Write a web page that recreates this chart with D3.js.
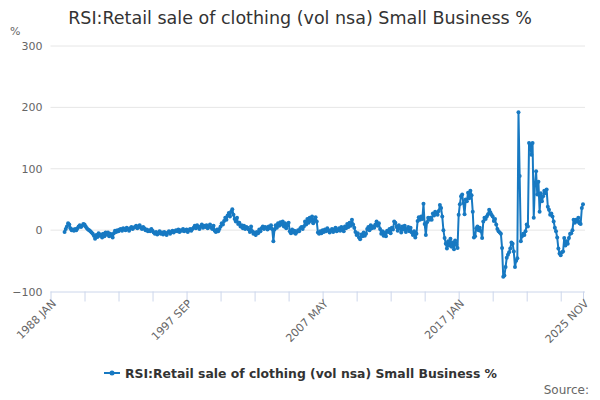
<!DOCTYPE html>
<html><head><meta charset="utf-8">
<script src="https://cdn.jsdelivr.net/npm/d3@7"></script>
<style>
body{margin:0;background:#fff}
svg{display:block;font-family:"DejaVu Sans",sans-serif}
</style>
</head><body>
<svg id="chart" width="600" height="400"></svg>
<script>
const chartTitle = "RSI:Retail sale of clothing (vol nsa) Small Business %";
const seriesName = "RSI:Retail sale of clothing (vol nsa) Small Business %";
const monthNames = ["JAN","FEB","MAR","APR","MAY","JUN","JUL","AUG","SEP","OCT","NOV","DEC"];
const axisStartYear = 1988;           // first category: 1988 JAN
const axisEnd = "2025 NOV";           // last category
const firstDataCategory = "1989 JAN"; // first month with a value
const yTicks = [-100, 0, 100, 200, 300];
const xLabelCategories = ["1988 JAN", "1997 SEP", "2007 MAY", "2017 JAN", "2025 NOV"];
const xTickStep = 29;

// Monthly values (%), 1989 JAN .. 2025 NOV, one row per year
const values = [
  -3, 2, 6, 11, 9, 3, 0, 1, -1, 2, 0, 3,
  6, 8, 5, 7, 10, 9, 6, 3, 1, 0, -2, -4,
  -6, -9, -14, -8, -11, -5, -9, -7, -12, -6, -10, -4,
  -7, -4, -10, -6, -9, -12, -5, -1, -3, 0, -2, 1,
  2, -1, 3, 1, 0, 4, 2, -1, 3, 5, 2, 4,
  5, 7, 3, 6, 8, 4, 2, 5, 3, 0, 1, -2,
  0, -2, 2, -1, -4, -6, -3, -7, -5, -2, -6, -4,
  -7, -3, -5, -8, -4, -2, -6, -3, -1, -4, -2, 0,
  -2, 1, -3, 0, -1, 2, -2, 0, 1, -3, 0, 2,
  -1, 2, 4, 7, 3, 8, 5, 2, 6, 9, 4, 7,
  5, 8, 3, 6, 9, 4, 2, 7, -1, -3, 1, -2,
  2, 6, 11, 9, 15, 20, 17, 24, 28, 22, 30, 34,
  25, 18, 14, 20, 10, 12, 6, 8, 3, 7, 2, 5,
  4, 1, -3, 6, -2, -6, -4, -8, -3, -5, 1, -2,
  3, 6, 2, 5, 4, 1, 6, 3, 8, 2, -18, 1,
  8, 4, 11, 7, 13, 9, 14, 6, 11, 3, 8, 12,
  -2, -5, 1, -4, -1, -6, -3, 0, -2, 3, 5, 2,
  6, 14, 9, 18, 12, 20, 15, 22, 11, 17, 21, 14,
  -4, -6, -2, -5, 0, -3, 1, -2, 3, 0, -4, -1,
  2, -3, 1, 4, -2, 0, 3, -1, 5, 2, -2, 6,
  3, 10, 5, 12, 7, 17, 9, 4, -3, -8, -5, -12,
  -15, -7, -10, -4, -9, -6, 2, 5, 0, 8, 3, 6,
  4, 9, 14, 7, 11, 2, -6, -2, -9, -4, -10, -1,
  -3, 2, -5, 4, 1, 14, 12, 5, -1, 8, 3, -4,
  6, 1, 7, -3, 2, 5, -2, 4, -4, -8, -2, -12,
  -6, 15, 21, 17, 22, 18, 43, 10, -8, 13, 20, 17,
  20, 17, 27, 24, 30, 28, 25, 31, 41, 36, 22, 0,
  -13, -22, -30, -18, -25, -14, -27, -20, -31, -17, -24, -29,
  25, 42, 55, 58, 44, 26, 50, 47, 61, 52, 64, 57,
  30, -12, -10, 3, 6, 0, 4, -2, -13, 14, 20, 18,
  22, 26, 33, 29, 25, 22, 15, 18, 9, 2, -2, -4,
  -6, -29, -76, -74, -60, -45, -40, -36, -30, -20, -22, -35,
  -60, -50, -46, 192, 88, -18, -10, -6, -8, -2, 9, 6,
  142, 139, 123, 142, 20, 74, 96, 58, 79, 30, 60, 47,
  55, 64, 60, 66, 38, 33, 25, 27, 22, 14, 4, -2,
  -12, -30, -38, -41, -36, -35, -13, -25, -18, -22, -13, -6,
  -5, 0, 17, 12, 17, 14, 20, 11, 10, 36, 42
];

// build month categories for the axis
const categories = [];
for (let y = axisStartYear; ; y++) {
  let done = false;
  for (let m = 0; m < 12; m++) {
    const c = y + " " + monthNames[m];
    categories.push(c);
    if (c === axisEnd) { done = true; break; }
  }
  if (done) break;
}
const startIdx = categories.indexOf(firstDataCategory);
const data = values.map((v, i) => ({cat: categories[startIdx + i], v}));

const color = "#1779c2";
const svg = d3.select("#chart");
const margin = {left: 50.5, right: 583, top: 46, bottom: 291.5};

const x = d3.scalePoint().domain(categories).range([margin.left, margin.right]);
const y = d3.scaleLinear().domain([-100, 300]).range([margin.bottom, margin.top]);

// title
svg.append("text").attr("x", 300).attr("y", 24).attr("text-anchor", "middle")
  .attr("font-size", 17.5).attr("fill", "#333").text(chartTitle);

// unit
svg.append("text").attr("x", 10).attr("y", 35).attr("font-size", 11).attr("fill", "#666").text("%");

// grid + y labels
const yAxis = d3.axisLeft(y).tickValues(yTicks).tickSize(0).tickPadding(8);
const gy = svg.append("g").attr("transform", `translate(${margin.left},0)`).call(yAxis);
gy.select(".domain").remove();
gy.selectAll("text").attr("font-size", 11).attr("fill", "#666").attr("font-family", "DejaVu Sans, sans-serif");
svg.append("g").selectAll("line").data(yTicks.filter(t => t !== -100)).join("line")
  .attr("x1", margin.left).attr("x2", margin.right + 2)
  .attr("y1", d => y(d)).attr("y2", d => y(d))
  .attr("stroke", "#e6e6e6").attr("stroke-width", 1);

// x axis
const tickCats = categories.filter((c, i) => i % xTickStep === 0);
tickCats.push(axisEnd);
const xAxis = d3.axisBottom(x).tickValues(tickCats).tickSize(10)
  .tickFormat(d => xLabelCategories.includes(d) ? d : "");
const gx = svg.append("g").attr("transform", `translate(0,${margin.bottom})`).call(xAxis);
gx.select(".domain").attr("stroke", "#ccd6eb").attr("d", `M${margin.left},0.5H${margin.right + 2}`);
gx.selectAll(".tick line").attr("stroke", "#ccd6eb");
gx.selectAll(".tick text")
  .attr("font-size", 11).attr("fill", "#666").attr("font-family", "DejaVu Sans, sans-serif")
  .attr("text-anchor", "end").attr("dy", "0.35em")
  .attr("transform", "translate(3,10) rotate(-45)").attr("x", 0).attr("y", 0);

// line
const line = d3.line().x(d => x(d.cat)).y(d => y(d.v));
svg.append("path").datum(data).attr("d", line)
  .attr("fill", "none").attr("stroke", color).attr("stroke-width", 2).attr("stroke-linejoin", "round");
svg.append("g").selectAll("circle").data(data).join("circle")
  .attr("cx", d => x(d.cat)).attr("cy", d => y(d.v)).attr("r", 2).attr("fill", color);

// legend
const lg = svg.append("g").attr("transform", "translate(104,373)");
lg.append("line").attr("x1", 0).attr("x2", 16).attr("y1", 0).attr("y2", 0).attr("stroke", color).attr("stroke-width", 2);
lg.append("circle").attr("cx", 8).attr("cy", 0).attr("r", 2.5).attr("fill", color);
lg.append("text").attr("x", 21).attr("y", 4.5).attr("font-size", 12.4).attr("font-weight", "bold")
  .attr("fill", "#333").text(seriesName);

// source
svg.append("text").attr("x", 589).attr("y", 394).attr("text-anchor", "end")
  .attr("font-size", 12).attr("fill", "#666").text("Source:");
</script>
</body></html>
